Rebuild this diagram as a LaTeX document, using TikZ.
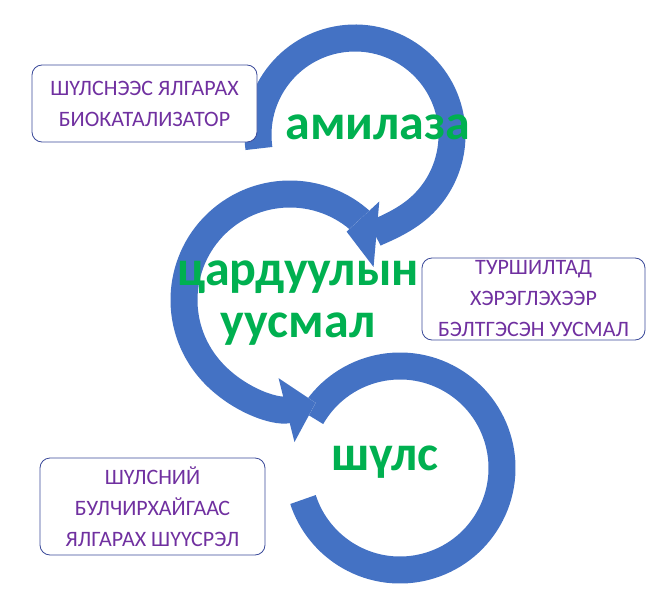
\documentclass[tikz,border=0pt]{standalone}
\usepackage{fontspec}
\setmainfont{Carlito}
\usetikzlibrary{arrows.meta}
\definecolor{ringblue}{HTML}{4472C4}
\definecolor{boxline}{HTML}{3B4A9A}
\definecolor{boxtext}{HTML}{7030A0}
\definecolor{termgreen}{HTML}{00B050}
\tikzset{every picture/.style={line width=0.75pt}}
\tikzset{
  ring/.style={draw=ringblue, line width=27pt},
  ringgap/.style={draw=white, line width=33pt},
  tip/.style={-{Triangle[width=64pt,length=30pt]}},
  gaptip/.style={-{Triangle[width=72pt,length=34pt]}},
  notebox/.style={draw=boxline, fill=white, rounded corners=10pt, line width=0.8pt,
    text=boxtext, align=center, font=\fontsize{22}{31}\selectfont, inner sep=0pt},
  term/.style={text=termgreen, align=center, font=\fontsize{50}{52}\selectfont\bfseries, inner sep=0pt}
}

\begin{document}
\begin{tikzpicture}[x=1pt,y=1pt,yscale=-1]
\useasboundingbox (0,0) rectangle (665,613);

%Rings
\draw [ring] (400,468) ++(210:102) arc (210:522:102) ;
\draw [ringgap, gaptip] (290,300) ++(322:106) arc (322:76:106) ;
\draw [ring, tip] (290,300) ++(322:106) arc (322:76:106) ;
\draw [ringgap, gaptip] (355,135) ++(172:97) arc (172:455:97) ;
\draw [ring, tip] (355,135) ++(172:97) arc (172:455:97) ;

%Note boxes
\node [notebox, minimum width=225pt, minimum height=77pt] (enzyme) at (144.5,103.5) {ШҮЛСНЭЭС ЯЛГАРАХ\\БИОКАТАЛИЗАТОР};
\node [notebox, minimum width=223pt, minimum height=82pt] (solution) at (533.5,299) {ТУРШИЛТАД\\ХЭРЭГЛЭХЭЭР\\БЭЛТГЭСЭН УУСМАЛ};
\node [notebox, minimum width=225pt, minimum height=97pt] (saliva) at (152.5,506.5) {ШҮЛСНИЙ\\БУЛЧИРХАЙГААС\\ЯЛГАРАХ ШҮҮСРЭЛ};

%Terms
\node [term] (amylase) at (378,127) {амилаза};
\node [term] (starch) at (298,303) {цардуулын\\уусмал};
\node [term] (spit) at (385,462) {шүлс};

\end{tikzpicture}
\end{document}
